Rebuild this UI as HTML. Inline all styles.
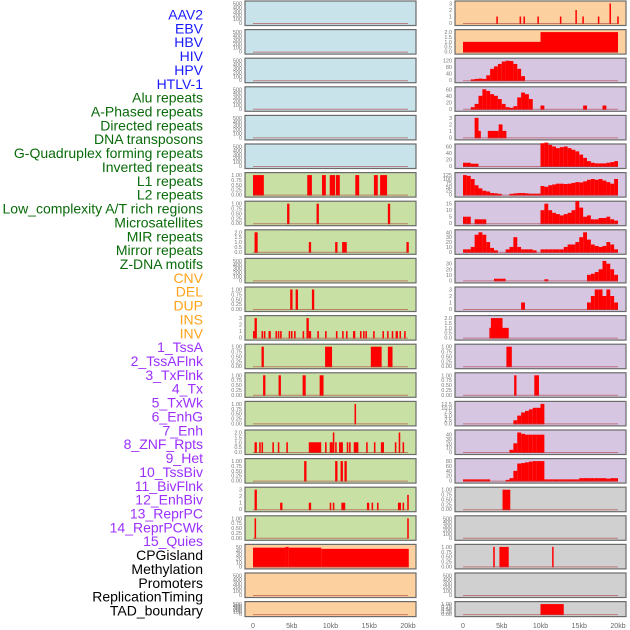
<!DOCTYPE html>
<html><head><meta charset="utf-8">
<style>
html,body{margin:0;padding:0;background:#fff;}
svg{display:block;font-family:"Liberation Sans",sans-serif;}
</style></head>
<body>
<svg id="chart" width="630" height="630" viewBox="0 0 630 630" xmlns="http://www.w3.org/2000/svg"></svg>
<script>
// ---- data ----
const trackLabels = ["AAV2","EBV","HBV","HIV","HPV","HTLV-1","Alu repeats","A-Phased repeats","Directed repeats","DNA transposons","G-Quadruplex forming repeats","Inverted repeats","L1 repeats","L2 repeats","Low_complexity A/T rich regions","Microsatellites","MIR repeats","Mirror repeats","Z-DNA motifs","CNV","DEL","DUP","INS","INV","1_TssA","2_TssAFlnk","3_TxFlnk","4_Tx","5_TxWk","6_EnhG","7_Enh","8_ZNF_Rpts","9_Het","10_TssBiv","11_BivFlnk","12_EnhBiv","13_ReprPC","14_ReprPCWk","15_Quies","CPGisland","Methylation","Promoters","ReplicationTiming","TAD_boundary"];
const labelGroups = [0,0,0,0,0,0,1,1,1,1,1,1,1,1,1,1,1,1,1,2,2,2,2,2,3,3,3,3,3,3,3,3,3,3,3,3,3,3,3,4,4,4,4,4];
const xTickValues = [0,5,10,15,20];
const xTickLabels = ["0","5kb","10kb","15kb","20kb"];
const leftBg = ["b","b","b","b","b","b","g","g","g","g","g","g","g","g","g","g","g","g","g","o","o","o"];
const rightBg = ["o","o","p","p","p","p","p","p","p","p","p","p","p","p","p","p","p","y","y","y","y","y"];
const leftMax = [500,500,500,500,500,500,1,1,2,500,1,3,1,1,1,2,1,3,1,50,500,500];
const rightMax = [3,2,120,60,3,60,125,15,40,35,3,2,1,1,12.5,45,80,1,500,1,500,1];
const leftSegs = [
 [],[],[],[],[],[],
 [[0,1.4,1],[7,7.6,1],[8.9,9.4,1],[9.9,10.6,1],[10.7,11.2,1],[13.2,13.7,1],[15.6,16.1,1],[16.4,17.3,1]],
 [[4.4,4.7,1],[8.2,8.5,1],[17.4,17.7,1]],
 [[0.2,0.6,2],[7.2,7.5,1],[10.6,10.9,1],[11.5,12.1,1],[19.8,20.1,1]],
 [],
 [[4.8,5.1,1],[5.5,5.8,1],[7.6,7.9,1]],
 [[0,0.2,1],[0.2,0.5,3],[1.1,1.3,1],[1.4,1.6,1],[2.0,2.3,1],[2.9,3.1,1],[3.2,3.4,1],[3.5,3.7,1],[4.6,4.8,1],[4.9,5.1,1],[5.3,5.5,1],[6.4,6.6,1],[6.9,7.2,3],[7.2,7.5,1],[8.3,8.5,1],[9.3,9.5,1],[10.7,10.9,1],[11.5,11.7,1],[12.0,12.2,1],[12.9,13.2,1],[13.8,14.0,1],[14.2,14.4,1],[14.5,14.7,1],[15.5,15.7,1],[16.7,16.9,1],[17.3,17.5,1],[17.9,18.1,1],[18.4,18.7,1],[18.9,19.1,1],[19.5,19.7,1]],
 [[1.1,1.4,1],[9.3,10.2,1],[15.2,16.6,1],[17.4,18.0,1]],
 [[1.3,1.6,1],[3.3,3.6,1],[6.4,6.8,1],[8.6,9.1,1]],
 [[13.1,13.3,1]],
 [[0.2,0.5,1],[0.8,1.0,1],[1.1,1.3,1],[2.5,2.7,1],[3.2,3.4,1],[4.3,4.5,1],[7.2,8.8,1],[9.3,9.5,1],[9.9,10.3,1],[10.3,10.5,2],[10.6,10.8,1],[11.1,11.6,1],[12.1,12.3,1],[12.4,12.6,1],[13.0,13.6,1],[14.6,14.8,1],[15.6,15.8,1],[16.5,16.9,1],[18.3,18.5,1],[18.8,19.0,2],[19.3,19.5,1]],
 [[6.6,6.9,1],[10.6,10.9,1],[11.3,11.6,1],[11.8,12.1,1]],
 [[0.2,0.5,3],[3.5,3.8,1],[7.2,7.5,1],[9.9,10.1,1],[10.3,10.5,1],[11.4,11.9,1],[14.7,15.0,1],[15.3,15.5,1],[16.0,16.2,1],[18.7,19.1,1],[19.3,19.5,1],[19.9,20.1,2.2]],
 [[0.2,0.4,1],[19.9,20.1,1]],
 [[0,4.2,48],[4.2,4.6,50],[4.6,8.8,48],[8.8,20.1,45]],
 [],[]
];
const hivBins = [0,0,5,8,10,8,30,70,85,100,115,120,118,100,70,25,0,0,0,0,0,0,0,0,0,0,0,0,0,0,0,0,0,0,0,0,0,0,0,0];
const hpvBins = [0,0,5,15,40,60,55,45,40,30,15,5,3,8,35,50,45,30,0,0,10,0,0,0,0,0,0,0,0,0,0,10,0,0,0,0,10,0,0,0];
const htlvBins = [10,10,7,7,0,0,0,0,0,0,0,0,0,0,0,0,0,0,0,0,70,72,65,60,55,58,60,55,50,45,35,25,15,10,8,8,8,10,12,15];
const aluBins = [125,120,100,60,40,25,20,10,8,5,0,0,5,8,10,10,8,6,6,6,55,50,60,65,70,70,68,70,75,80,78,85,95,100,95,100,90,80,70,100];
const aphBins = [5,5,0,3,3,3,0,0,0,0,0,0,0,0,0,0,0,0,0,0,10,15,10,8,7,6,7,8,10,17,12,5,6,3,3,4,4,5,3,2];
const dirBins = [5,5,10,35,40,35,20,8,3,0,0,5,10,30,10,5,5,5,3,0,5,5,5,5,5,5,10,15,15,20,30,40,25,15,12,10,12,20,15,5];
const dnaBins = [0,0,0,0,0,0,0,0,3,3,3,0,0,0,0,0,0,0,0,0,0,2,0,0,0,0,0,0,0,0,0,0,10,12,15,20,35,30,20,10];
const gqBins = [0,0,0,0,0,0,0,0,0,0,0,0,0,0,0,1,0,0,0,0,0,0,0,0,0,0,0,0,0,0,0,0,1,2,3,3,2,3,2,1];
const t4Bins = [0,0,0,0,0,0,0,0,0,0,0,0,0,2,5,7,8,9,10,10,12.5,0,0,0,0,0,0,0,0,0,0,0,0,0,0,0,0,0,0,0];
const t5Bins = [0,0,0,0,0,0,0,0,0,0,0,0,5,20,45,42,40,40,40,40,40,0,0,0,0,0,0,0,0,0,0,0,0,0,0,0,0,0,0,0];
const t6Bins = [5,5,5,5,5,5,5,0,0,0,0,3,10,40,70,72,75,78,80,80,80,5,5,5,5,5,5,5,5,5,10,10,10,10,10,10,10,8,10,10];
function bins(arr){const s=[];arr.forEach((v,i)=>{if(v>0)s.push([i*0.5,i*0.5+0.5,v]);});return s;}
const rightSegs = [
 [[4.3,4.45,1],[7.3,7.45,1],[7.8,7.95,1],[9.6,9.75,1],[12.5,12.65,1],[14.5,14.65,2],[15.4,15.55,1],[17.4,17.55,1],[18.9,19.05,3],[19.9,20.05,1]],
 [[0,10,1],[10,20,2]],
 bins(hivBins), bins(hpvBins),
 [[1.5,2.0,3],[2.0,2.3,1],[3.2,4.6,1],[4.6,5.1,2],[5.1,5.6,1]],
 bins(htlvBins), bins(aluBins), bins(aphBins), bins(dirBins), bins(dnaBins), bins(gqBins),
 [[3.4,3.6,1],[3.6,5.1,2],[5.1,5.9,1]],
 [[5.6,6.3,1]],
 [[6.6,6.9,1],[9.2,9.8,1]],
 bins(t4Bins), bins(t5Bins), bins(t6Bins),
 [[5.1,6.1,1]],
 [],
 [[3.9,4.1,1],[4.7,5.9,1],[11.5,11.6,1]],
 [],
 [[10,13,1]]
];
// ---- drawing ----
const svg=document.getElementById('chart');
const NS='http://www.w3.org/2000/svg';
function mk(tag,attrs,parent){const e=document.createElementNS(NS,tag);for(const k in attrs)e.setAttribute(k,attrs[k]);(parent||svg).appendChild(e);return e;}
const bgCol={b:'#c8e3ea',g:'#c9e0a5',o:'#fdd09f',p:'#d6c6e2',y:'#d0d0d0'};
const labelCol=['#1a1aff','#0a6b0a','#ffa31a','#9b30ff','#000'];
const panelX=[245,455], panelW=171;
function xScale(col,kb){return panelX[col]+8+kb*7.75;}
function rowTop(i){return 1+i*28.6;}
function rowH(i){return i===21?15:24.5;}
function yScale(i,v,ymax){const b=rowTop(i)+rowH(i)-2.5;return b-(v/ymax)*(rowH(i)-5);}
function tickVals(m){
  if(m===500)return [[0,'0'],[100,'100'],[200,'200'],[300,'300'],[400,'400'],[500,'500']];
  if(m===1)return [[0,'0.00'],[0.25,'0.25'],[0.5,'0.50'],[0.75,'0.75'],[1,'1.00']];
  if(m===2)return [[0,'0.0'],[0.5,'0.5'],[1,'1.0'],[1.5,'1.5'],[2,'2.0']];
  if(m===3)return [[0,'0'],[1,'1'],[2,'2'],[3,'3']];
  if(m===50)return [[0,'0'],[10,'10'],[20,'20'],[30,'30'],[40,'40'],[50,'50']];
  if(m===120)return [[0,'0'],[40,'40'],[80,'80'],[120,'120']];
  if(m===60)return [[0,'0'],[20,'20'],[40,'40'],[60,'60']];
  if(m===125)return [[0,'0'],[25,'25'],[50,'50'],[75,'75'],[100,'100'],[125,'125']];
  if(m===15)return [[0,'0'],[5,'5'],[10,'10'],[15,'15']];
  if(m===40)return [[0,'0'],[10,'10'],[20,'20'],[30,'30'],[40,'40']];
  if(m===35)return [[0,'0'],[10,'10'],[20,'20'],[30,'30']];
  if(m===12.5)return [[0,'0.0'],[2.5,'2.5'],[5,'5.0'],[7.5,'7.5'],[10,'10.0'],[12.5,'12.5']];
  if(m===45)return [[0,'0'],[10,'10'],[20,'20'],[30,'30'],[40,'40']];
  if(m===80)return [[0,'0'],[20,'20'],[40,'40'],[60,'60'],[80,'80']];
  return [[0,'0'],[m,String(m)]];
}
function drawPanel(col,i,bg,ymax,segs){
  const g=mk('g',{});
  
  
  const t=rowTop(i),h=rowH(i);
  mk('rect',{x:panelX[col],y:t,width:panelW,height:h,fill:bgCol[bg],stroke:'#6b6b6b','stroke-width':1.2},g);
  tickVals(ymax).forEach(([v,l])=>{
    const tx=mk('text',{x:panelX[col]-3,y:yScale(i,v,ymax)+2,'font-size':5.5,fill:'#777','text-anchor':'end'},g);
    tx.textContent=l;
    
    
  });
  segs.forEach(s=>{
    const x1=xScale(col,s[0]),x2=Math.max(xScale(col,s[1]),x1+1.5);
    const y=yScale(i,s[2],ymax),b=yScale(i,0,ymax);
    const r=mk('rect',{x:x1,y:y,width:x2-x1,height:b-y+1,fill:'#ff0000'},g);
    
    
  });
  mk('line',{x1:xScale(col,0),x2:xScale(col,20),y1:yScale(i,0,ymax)+0.5,y2:yScale(i,0,ymax)+0.5,stroke:'#b04040','stroke-width':1,opacity:0.6},g);
}
for(let i=0;i<22;i++){
  drawPanel(0,i,leftBg[i],leftMax[i],leftSegs[i]);
  drawPanel(1,i,rightBg[i],rightMax[i],rightSegs[i]);
}
[0,1].forEach(col=>{
  xTickValues.forEach((v,k)=>{
    const tx=mk('text',{x:xScale(col,v),y:628,'font-size':7,fill:'#666','text-anchor':'middle'});
    tx.textContent=xTickLabels[k];
    
    
  });
});
const pitch=(611-15)/(trackLabels.length-1);
trackLabels.forEach((l,k)=>{
  const tx=mk('text',{x:203,y:15+k*pitch+4.5,'font-size':14,fill:labelCol[labelGroups[k]],'text-anchor':'end'});
  tx.textContent=l;
  
  
});
</script>
</body></html>
